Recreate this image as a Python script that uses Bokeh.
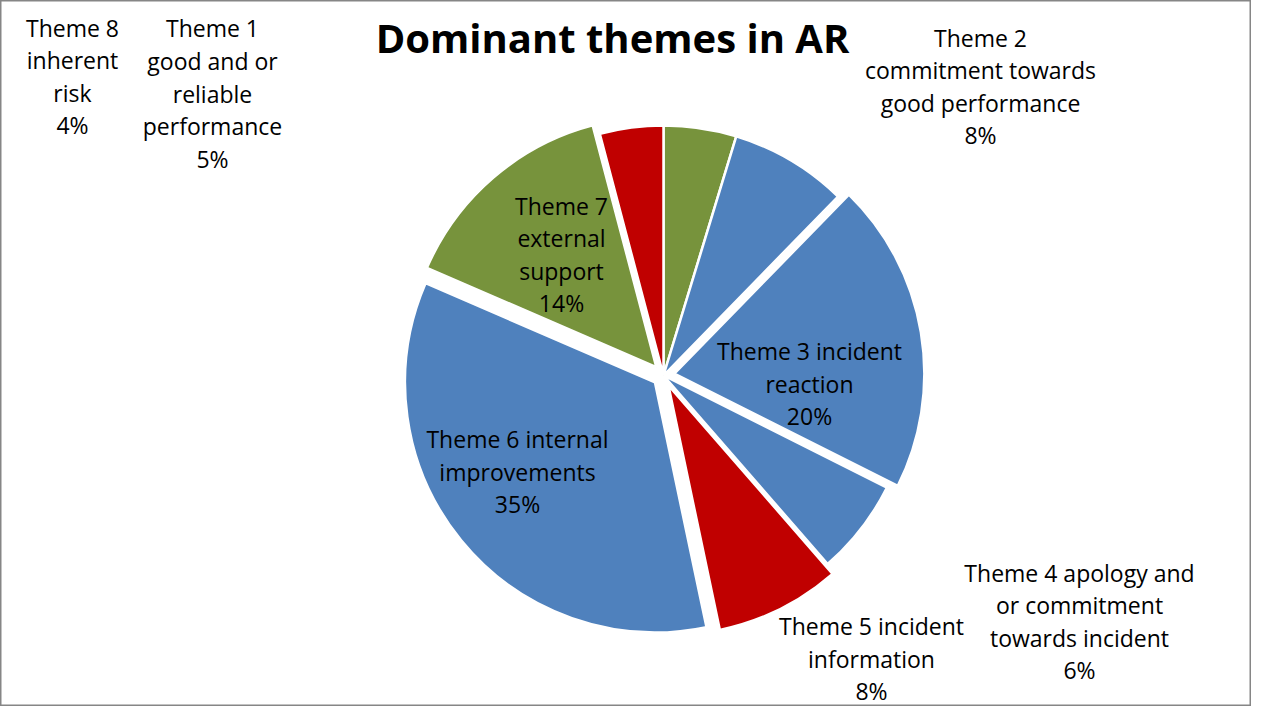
import math
from bokeh.plotting import figure
from bokeh.models import Range1d, ColumnDataSource
from bokeh.core.properties import value
from bokeh.embed import file_html
from bokeh.resources import INLINE

# ---- data ----
themes = ["Theme 1 good and or reliable performance",
          "Theme 2 commitment towards good performance",
          "Theme 3 incident reaction",
          "Theme 4 apology and or commitment towards incident",
          "Theme 5 incident information",
          "Theme 6 internal improvements",
          "Theme 7 external support",
          "Theme 8 inherent risk"]
shares = [4.7, 7.6, 20.1, 6.2, 8.1, 34.8, 14.4, 4.1]
exploded = [False, False, True, False, True, True, True, False]
label_lines = [["Theme 1", "good and or", "reliable", "performance"],
               ["Theme 2", "commitment towards", "good performance"],
               ["Theme 3 incident", "reaction"],
               ["Theme 4 apology and", "or commitment", "towards incident"],
               ["Theme 5 incident", "information"],
               ["Theme 6 internal", "improvements"],
               ["Theme 7", "external", "support"],
               ["Theme 8", "inherent", "risk"]]
title = "Dominant themes in AR"

# ---- styles / layout ----
colors = ["#77933C", "#4F81BD", "#4F81BD", "#4F81BD", "#C00000", "#4F81BD", "#77933C", "#C00000"]
# label centres in screen pixels (x, y of block centre)
label_pos = [(212, 93), (980, 86), (809, 383), (1079, 621), (871, 658),
             (517, 471), (561, 254), (72, 76)]
W, H = 1251, 706
CX, CY_SCREEN, R, EXPLODE = 663, 375, 250, 11
font = "Open Sans"
fsize = 23
line_h = 32.6

def sy(y):
    return 722 - y

p = figure(width=W, height=H, output_backend="svg", toolbar_location=None,
           x_range=Range1d(0, W), y_range=Range1d(722 - H, 722),
           min_border=0, background_fill_color="white", border_fill_color="white")
p.axis.visible = False
p.grid.visible = False
p.outline_line_color = "#868686"
p.outline_line_width = 2

total = sum(shares)
cum = 0.0
xs, ys, starts, ends = [], [], [], []
for v, ex in zip(shares, exploded):
    a0 = math.pi / 2 - 2 * math.pi * cum / total
    a1 = math.pi / 2 - 2 * math.pi * (cum + v) / total
    mid = (a0 + a1) / 2
    d = EXPLODE if ex else 0
    xs.append(CX + d * math.cos(mid))
    ys.append(sy(CY_SCREEN) + d * math.sin(mid))
    starts.append(a0)
    ends.append(a1)
    cum += v

src = ColumnDataSource(dict(x=xs, y=ys, start=starts, end=ends, color=colors))
p.wedge(x="x", y="y", radius=R, start_angle="start", end_angle="end",
        direction="clock", fill_color="color", line_color="white",
        line_width=2.5, source=src)

# labels
tx, ty, tt = [], [], []
for lines, v, (lx, ly) in zip(label_lines, shares, label_pos):
    all_lines = lines + [f"{round(v)}%"]
    n = len(all_lines)
    for i, s in enumerate(all_lines):
        tx.append(lx)
        ty.append(sy(ly + (i - (n - 1) / 2) * line_h))
        tt.append(s)
p.text(x=tx, y=ty, text=tt, text_font=value(font), text_font_size=f"{fsize}px",
       text_align="center", text_baseline="middle", text_color="black")

p.text(x=[612], y=[sy(37)], text=[title], text_font=value(font),
       text_font_size="40px", text_font_style="bold", text_align="center",
       text_baseline="middle", text_color="black")

open("out.html", "w").write(file_html(p, INLINE))
